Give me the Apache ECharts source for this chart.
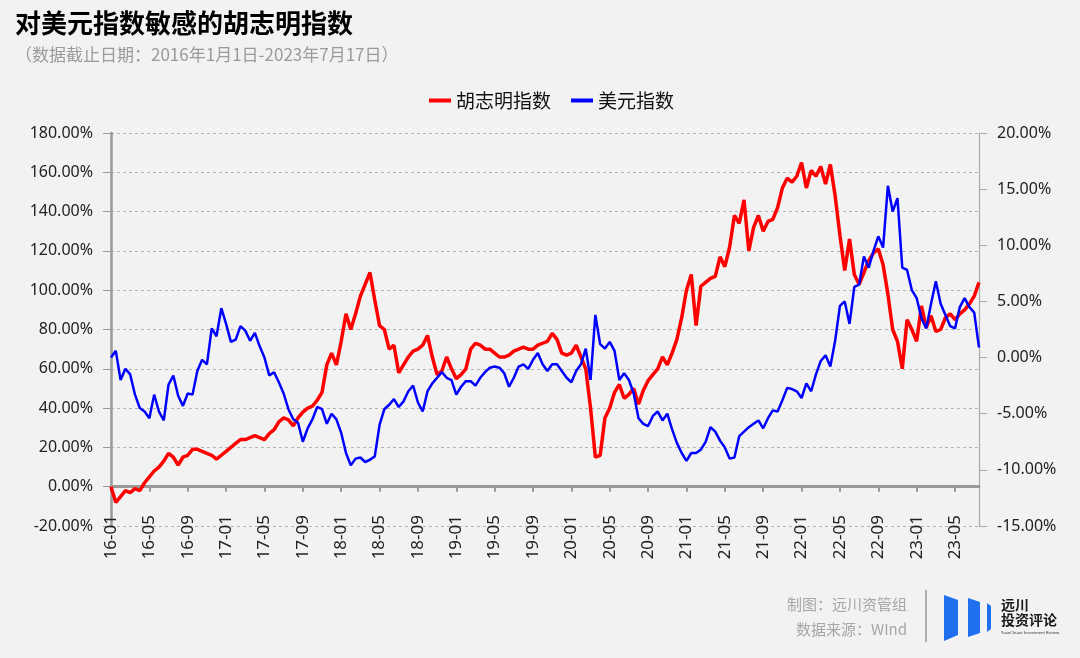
<!DOCTYPE html>
<html>
<head>
<meta charset="utf-8">
<script src="https://cdn.jsdelivr.net/npm/echarts@6/dist/echarts.min.js"></script>
<style>
html,body{margin:0;padding:0;background:#f2f2f2;}
#chart{width:1080px;height:658px;}
</style>
</head>
<body>
<div id="chart"></div>
<script>
// semi-monthly sampling: 1st and 16th of each month, 2016-01-01 .. 2023-07-16
const seriesNames = ['胡志明指数', '美元指数'];
const tickMonths = [1, 5, 9];

// 胡志明指数 cumulative change (%) – left axis
const hcmValues = [
  0,-8,-5,-2,-3,-1,-2,2,5,8,
  10,13,17,15,11,15,16,19,19,18,
  17,16,14,16,18,20,22,24,24,25,
  26,25,24,27,29,33,35,34,31,35,
  38,40,41,44,48,62,68,62,74,88,
  80,88,97,103,109,95,82,80,70,72,
  58,62,66,69,70,72,77,66,57,59,
  66,60,55,57,60,70,73,72,70,70,
  68,66,66,67,69,70,71,70,70,72,
  73,74,78,75,68,67,68,72,66,60,
  40,15,16,35,40,48,52,45,47,50,
  42,49,54,57,60,66,62,68,75,86,
  100,108,82,102,104,106,107,117,112,122,
  138,134,146,120,132,138,130,135,136,142,
  152,157,155,158,165,152,161,158,163,154,
  164,148,128,110,126,108,103,109,115,119,
  121,113,98,80,74,60,85,80,74,92,
  81,87,79,80,86,88,85,88,90,93,
  97,104
];

// 美元指数 cumulative change (%) – right axis
const dxyValues = [
  0,0.6,-2.0,-1.0,-1.5,-3.3,-4.5,-4.8,-5.4,-3.3,
  -4.8,-5.6,-2.4,-1.6,-3.4,-4.3,-3.2,-3.3,-1.2,-0.2,
  -0.6,2.6,1.9,4.4,3.0,1.4,1.6,2.8,2.4,1.5,
  2.2,1.0,0.0,-1.6,-1.3,-2.2,-3.2,-4.6,-5.5,-5.8,
  -7.5,-6.3,-5.5,-4.4,-4.6,-5.9,-5.0,-5.5,-6.7,-8.5,
  -9.6,-9.0,-8.9,-9.3,-9.1,-8.8,-6.0,-4.6,-4.2,-3.7,
  -4.4,-3.9,-3.0,-2.5,-4.0,-4.8,-3.0,-2.3,-1.8,-1.3,
  -1.8,-2.0,-3.3,-2.6,-2.1,-2.1,-2.5,-1.8,-1.3,-0.9,
  -0.8,-0.9,-1.4,-2.6,-1.8,-0.8,-0.6,-1.0,-0.2,0.4,
  -0.6,-1.2,-0.6,-0.6,-1.2,-1.8,-2.2,-1.2,-0.6,0.8,
  -2.0,3.8,1.2,0.8,1.4,0.6,-2.0,-1.4,-2.0,-3.2,
  -5.4,-5.9,-6.1,-5.2,-4.8,-5.6,-5.0,-6.4,-7.6,-8.5,
  -9.2,-8.5,-8.5,-8.2,-7.5,-6.2,-6.6,-7.4,-8.0,-9.0,
  -8.9,-7.0,-6.6,-6.2,-5.9,-5.6,-6.3,-5.4,-4.7,-4.8,
  -3.8,-2.7,-2.8,-3.0,-3.6,-2.3,-3.0,-1.5,-0.3,0.2,
  -0.8,1.5,4.6,5.0,3.0,6.3,6.5,9.0,8.0,9.5,
  10.8,9.8,15.3,13.0,14.2,8.0,7.8,6.0,5.3,3.5,
  2.6,4.8,6.8,4.8,3.8,2.8,2.6,4.5,5.3,4.5,
  4.0,0.9
];

// category dates (YYYY-MM-DD)
const dates = [];
for (let i = 0; i < hcmValues.length; i++) {
  const m = Math.floor(i / 2);
  const y = 2016 + Math.floor(m / 12);
  const mo = (m % 12) + 1;
  const d = (i % 2 === 0) ? 1 : 16;
  dates.push(y + '-' + String(mo).padStart(2, '0') + '-' + String(d).padStart(2, '0'));
}

function isTick(idx, val) {
  const parts = val.split('-');
  return parts[2] === '01' && tickMonths.indexOf(parseInt(parts[1], 10)) >= 0;
}

const chart = echarts.init(document.getElementById('chart'));
const numFont = "'Noto Sans', 'Noto Sans CJK SC', sans-serif";
const cjkFont = "'Noto Sans CJK SC', 'Noto Sans', sans-serif";

chart.setOption({
  backgroundColor: '#f2f2f2',
  animation: false,
  title: {
    text: '对美元指数敏感的胡志明指数',
    subtext: '（数据截止日期：2016年1月1日-2023年7月17日）',
    left: 10,
    top: 5,
    itemGap: 10,
    textStyle: { fontFamily: cjkFont, fontSize: 26, fontWeight: 'bold', color: '#000' },
    subtextStyle: { fontFamily: cjkFont, fontSize: 17, color: '#9a9a9a' }
  },
  legend: {
    data: seriesNames,
    left: 424,
    top: 86,
    icon: 'rect',
    itemWidth: 22,
    itemHeight: 4,
    itemGap: 20,
    textStyle: { fontFamily: cjkFont, fontSize: 19, color: '#111' }
  },
  grid: { left: 111, right: 101, top: 133, bottom: 132, containLabel: false },
  xAxis: {
    type: 'category',
    data: dates,
    boundaryGap: false,
    offset: -19,
    axisLine: { lineStyle: { color: '#999', width: 3 } },
    axisTick: { show: true, interval: isTick, length: 5, lineStyle: { color: '#999', width: 2 } },
    axisLabel: {
      interval: isTick,
      rotate: 90,
      margin: 8,
      fontFamily: numFont,
      fontSize: 17,
      color: '#222',
      formatter: function (v) { return v.slice(2, 7); }
    },
    splitLine: { show: false }
  },
  yAxis: [
    {
      type: 'value',
      min: -20, max: 180, interval: 20,
      position: 'left',
      axisLine: { show: true, lineStyle: { color: '#999', width: 2.5 } },
      axisTick: { show: true, length: 8, lineStyle: { color: '#999' } },
      axisLabel: {
        margin: 18,
        fontFamily: numFont, fontSize: 16, color: '#222',
        formatter: function (v) { return v.toFixed(2) + '%'; }
      },
      splitLine: { show: true, lineStyle: { color: '#b4b4b4', type: [3, 3], width: 1 } }
    },
    {
      type: 'value',
      min: -15, max: 20, interval: 5,
      position: 'right',
      axisLine: { show: true, lineStyle: { color: '#aaa', width: 1.2 } },
      axisTick: { show: true, length: 8, lineStyle: { color: '#aaa' } },
      axisLabel: {
        margin: 18,
        fontFamily: numFont, fontSize: 16, color: '#222',
        formatter: function (v) { return v.toFixed(2) + '%'; }
      },
      splitLine: { show: false }
    }
  ],
  series: [
    {
      name: seriesNames[0],
      type: 'line',
      yAxisIndex: 0,
      data: hcmValues,
      showSymbol: false,
      lineStyle: { color: '#ff0000', width: 3.5 },
      itemStyle: { color: '#ff0000' }
    },
    {
      name: seriesNames[1],
      type: 'line',
      yAxisIndex: 1,
      data: dxyValues,
      showSymbol: false,
      lineStyle: { color: '#0000ff', width: 2.5 },
      itemStyle: { color: '#0000ff' }
    }
  ],
  graphic: [
    { type: 'text', right: 173, top: 597,
      style: { text: '制图：远川资管组', font: "15px 'Noto Sans CJK SC'", fill: '#a6a6a6', textAlign: 'right' } },
    { type: 'text', right: 173, top: 622,
      style: { text: '数据来源：WInd', font: "15px 'Noto Sans CJK SC'", fill: '#a6a6a6', textAlign: 'right' } },
    { type: 'line', shape: { x1: 926, y1: 590, x2: 926, y2: 642 }, style: { stroke: '#999', lineWidth: 1.5 } },
    { type: 'polygon', shape: { points: [[944, 595], [958, 600], [958, 635], [944, 641]] }, style: { fill: '#1f6fef' } },
    { type: 'polygon', shape: { points: [[968, 598], [980, 602], [980, 633], [968, 637]] }, style: { fill: '#1f6fef' } },
    { type: 'polygon', shape: { points: [[987, 603], [991, 606], [991, 629], [987, 632]] }, style: { fill: '#1f6fef' } },
    { type: 'text', left: 1001, top: 598,
      style: { text: '远川', font: "bold 14px 'Noto Sans CJK SC'", fill: '#1a1a1a' } },
    { type: 'text', left: 1001, top: 613,
      style: { text: '投资评论', font: "bold 14px 'Noto Sans CJK SC'", fill: '#1a1a1a' } },
    { type: 'text', left: 1001, top: 631,
      style: { text: 'YuanChuan Investment Review', font: "4px 'Noto Sans'", fill: '#333' } }
  ]
});
</script>
</body>
</html>
